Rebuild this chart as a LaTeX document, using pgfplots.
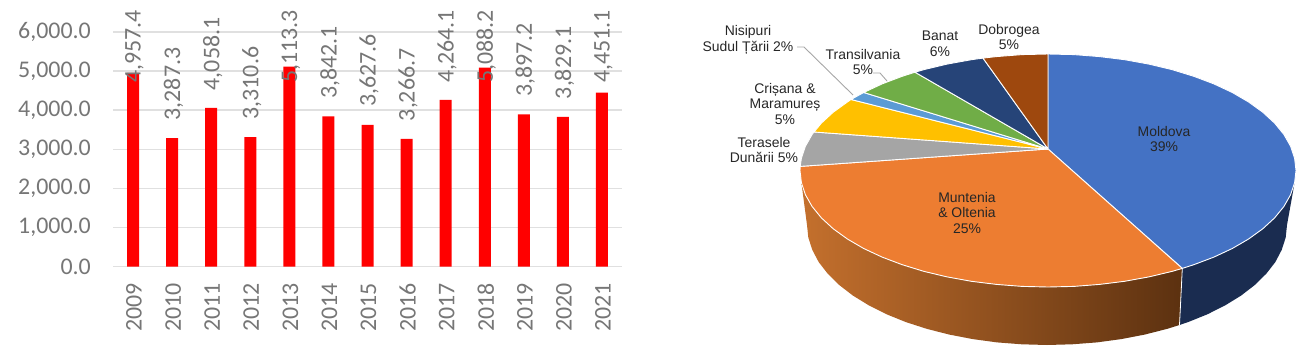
\documentclass[border=0pt]{standalone}
\usepackage{pgfplots}
\pgfplotsset{compat=1.18}
\usepackage{fontspec}
\setmainfont{Carlito}
\newfontfamily\arialf{Liberation Sans}
\definecolor{tickgray}{HTML}{767676}
\definecolor{gridgray}{HTML}{E0E0E0}
\definecolor{pblue}{HTML}{4472C4}
\definecolor{porange}{HTML}{ED7D31}
\definecolor{pgray}{HTML}{A5A5A5}
\definecolor{pyellow}{HTML}{FFC000}
\definecolor{plblue}{HTML}{5B9BD5}
\definecolor{pgreen}{HTML}{70AD47}
\definecolor{pnavy}{HTML}{264478}
\definecolor{pbrown}{HTML}{9E480E}
\definecolor{wallblue}{HTML}{1A2C50}
\definecolor{wallL}{HTML}{C4702D}
\definecolor{wallR}{HTML}{5C3110}
\definecolor{lead}{HTML}{A6A6A6}
\definecolor{ptext}{HTML}{262626}
\newcommand{\barfont}{\fontsize{24}{29}\selectfont}
\newcommand{\piefont}{\arialf\fontsize{14}{16}\selectfont}
\begin{document}
\begin{tikzpicture}
\path[use as bounding box] (0,0) rectangle (1300bp,356bp);
% bar chart
\begin{axis}[
  at={(113bp,89.3bp)}, anchor=south west, scale only axis,
  width=509bp, height=234.7bp,
  xmin=-0.512, xmax=12.512, ymin=0, ymax=6000,
  clip=false,
  axis line style={draw=none},
  major tick length=0pt,
  ytick={0,1000,2000,3000,4000,5000,6000},
  ymajorgrids,
  grid style={gridgray,line width=1.6bp},
  xtick={0,1,2,3,4,5,6,7,8,9,10,11,12},
  xticklabels={2009,2010,2011,2012,2013,2014,2015,2016,2017,2018,2019,2020,2021},
  xticklabel style={rotate=90,anchor=east,font=\barfont,text=tickgray,inner sep=0pt,xshift=-16.5bp,yshift=-1bp},
  yticklabel style={font=\barfont,text=tickgray,/pgf/number format/assume math mode=true,
    /pgf/number format/fixed,/pgf/number format/fixed zerofill,/pgf/number format/precision=1,
    /pgf/number format/1000 sep={,},inner sep=0pt,xshift=-22bp},
  scaled y ticks=false,
]
\addplot[ybar,bar width=12bp,fill=red,draw=none] coordinates {
 (0,4957.4)(1,3287.3)(2,4058.1)(3,3310.6)(4,5113.3)(5,3842.1)(6,3627.6)
 (7,3266.7)(8,4264.1)(9,5088.2)(10,3897.2)(11,3829.1)(12,4451.1)};
\addplot[draw=none,mark=none,nodes near coords,point meta=explicit symbolic,
  nodes near coords style={rotate=90,anchor=west,font=\barfont,text=tickgray,inner sep=0pt,yshift=-1.5bp}]
 table[x=x,y=y,meta=label]{
x y label
0 4695 4,957.4
1 3737 3,287.3
2 4508 4,058.1
3 3760 3,310.6
4 4695 5,113.3
5 4292 3,842.1
6 4078 3,627.6
7 3717 3,266.7
8 4695 4,264.1
9 4695 5,088.2
10 4347 3,897.2
11 4279 3,829.1
12 4695 4,451.1
};
\end{axis}
% pie chart, in picture coordinates
\begin{axis}[
  at={(0bp,0bp)}, anchor=south west, scale only axis,
  width=1300bp, height=356bp,
  xmin=0, xmax=1300, ymin=0, ymax=356, y dir=reverse,
  hide axis, clip=false,
]
% walls
\addplot[draw=none,fill=wallblue] coordinates {
 (1182.3,268.4)(1193.8,264.7)(1213.9,257.1)(1232.3,248.5)(1248.6,239.0)(1262.8,228.75)(1274.6,217.9)(1283.9,206.5)(1290.6,194.7)(1294.6,182.7)
 (1287,225)(1285.7,237.5)(1281.7,249.9)(1275.3,262.1)(1266.2,273.8)(1254.8,285)(1241.2,295.5)(1225.3,305.3)(1207.6,314.2)(1188.1,322.1)(1179.5,325)(1182.3,268.4)};
\addplot[draw=none,left color=wallL,right color=wallR] coordinates {
 (1182.3,268.4)(1172,271.4)(1148.9,276.9)(1124.6,281.3)(1099.6,284.4)(1073.9,286.4)(1048,287)(1022.1,286.4)(996.4,284.4)(971.4,281.3)(947.1,276.9)(924,271.4)(902.2,264.7)(882.1,257.1)(863.7,248.5)(847.4,239)(833.2,228.75)(821.4,217.9)(812.1,206.5)(805.4,194.7)(801.4,182.7)
 (807,225)(808.3,237.5)(812.3,249.9)(818.7,262.1)(827.8,273.8)(839.2,285)(852.8,295.5)(868.7,305.3)(886.4,314.2)(905.9,322.1)(927,328.9)(949.4,334.6)(972.8,339.1)(997.1,342.4)(1021.9,344.3)(1047,345)(1072.1,344.3)(1096.9,342.4)(1121.2,339.1)(1144.6,334.6)(1167,328.9)(1179.5,325)(1182.3,268.4)};
\addplot[draw=white,line width=0.8bp] coordinates {(1182.3,268.4)(1179.5,325)};
% slices
\addplot[fill=pblue,draw=white,line width=0.9bp] coordinates {
 (1048,149)(1048,54)(1073.9,54.6)(1099.6,56.6)(1124.6,59.7)(1148.9,64.1)(1172,69.6)(1193.8,76.3)(1213.9,83.9)(1232.3,92.5)(1248.6,102)(1262.8,112.25)(1274.6,123.1)(1283.9,134.5)(1290.6,146.3)(1294.6,158.3)(1296,170.5)(1294.6,182.7)(1290.6,194.7)(1283.9,206.5)(1274.6,217.9)(1262.8,228.75)(1248.6,239)(1232.3,248.5)(1213.9,257.1)(1193.8,264.7)(1182.3,268.4)(1048,149)};
\addplot[fill=porange,draw=white,line width=0.9bp] coordinates {
 (1048,149)(1182.3,268.4)(1172,271.4)(1148.9,276.9)(1124.6,281.3)(1099.6,284.4)(1073.9,286.4)(1048,287)(1022.1,286.4)(996.4,284.4)(971.4,281.3)(947.1,276.9)(924,271.4)(902.2,264.7)(882.1,257.1)(863.7,248.5)(847.4,239)(833.2,228.75)(821.4,217.9)(812.1,206.5)(805.4,194.7)(801.4,182.7)(800,170.5)(800.2,166.4)(1048,149)};
\addplot[fill=pgray,draw=white,line width=0.9bp] coordinates {
 (1048,149)(800.2,166.4)(801.4,158.3)(805.4,146.3)(812.1,134.5)(814,132)(1048,149)};
\addplot[fill=pyellow,draw=white,line width=0.9bp] coordinates {
 (1048,149)(814,132)(821.4,123.1)(833.2,112.25)(847.4,102)(851,99.5)(1048,149)};
\addplot[fill=plblue,draw=white,line width=0.9bp] coordinates {
 (1048,149)(851,99.5)(863.7,92.5)(1048,149)};
\addplot[fill=pgreen,draw=white,line width=0.9bp] coordinates {
 (1048,149)(863.7,92.5)(882.1,83.9)(902.2,76.3)(915,72.2)(1048,149)};
\addplot[fill=pnavy,draw=white,line width=0.9bp] coordinates {
 (1048,149)(915,72.2)(924,69.6)(947.1,64.1)(971.4,59.7)(983,58.1)(1048,149)};
\addplot[fill=pbrown,draw=white,line width=0.9bp] coordinates {
 (1048,149)(983,58.1)(996.4,56.6)(1022.1,54.6)(1048,54)(1048,149)};
% leader lines
\addplot[draw=lead,line width=0.9bp] coordinates {(797,47)(804,47)(853,95)};
\addplot[draw=lead,line width=0.9bp] coordinates {(873,73)(880,73)(887,81)};
% labels
\node[font=\piefont,text=ptext,align=center] at (axis cs:748,40) {Nisipuri\\Sudul Țării 2\%};
\node[font=\piefont,text=ptext,align=center] at (axis cs:863,62) {Transilvania\\5\%};
\node[font=\piefont,text=ptext,align=center] at (axis cs:940,44) {Banat\\6\%};
\node[font=\piefont,text=ptext,align=center] at (axis cs:1009,37) {Dobrogea\\5\%};
\node[font=\piefont,text=ptext,align=center] at (axis cs:785,104) {Crișana \&\\Maramureș\\5\%};
\node[font=\piefont,text=ptext,align=center] at (axis cs:764,150) {Terasele\\Dunării 5\%};
\node[font=\piefont,text=ptext,align=center] at (axis cs:1164,139) {Moldova\\39\%};
\node[font=\piefont,text=ptext,align=center] at (axis cs:967,213) {Muntenia\\\& Oltenia\\25\%};
\end{axis}
\end{tikzpicture}
\end{document}
